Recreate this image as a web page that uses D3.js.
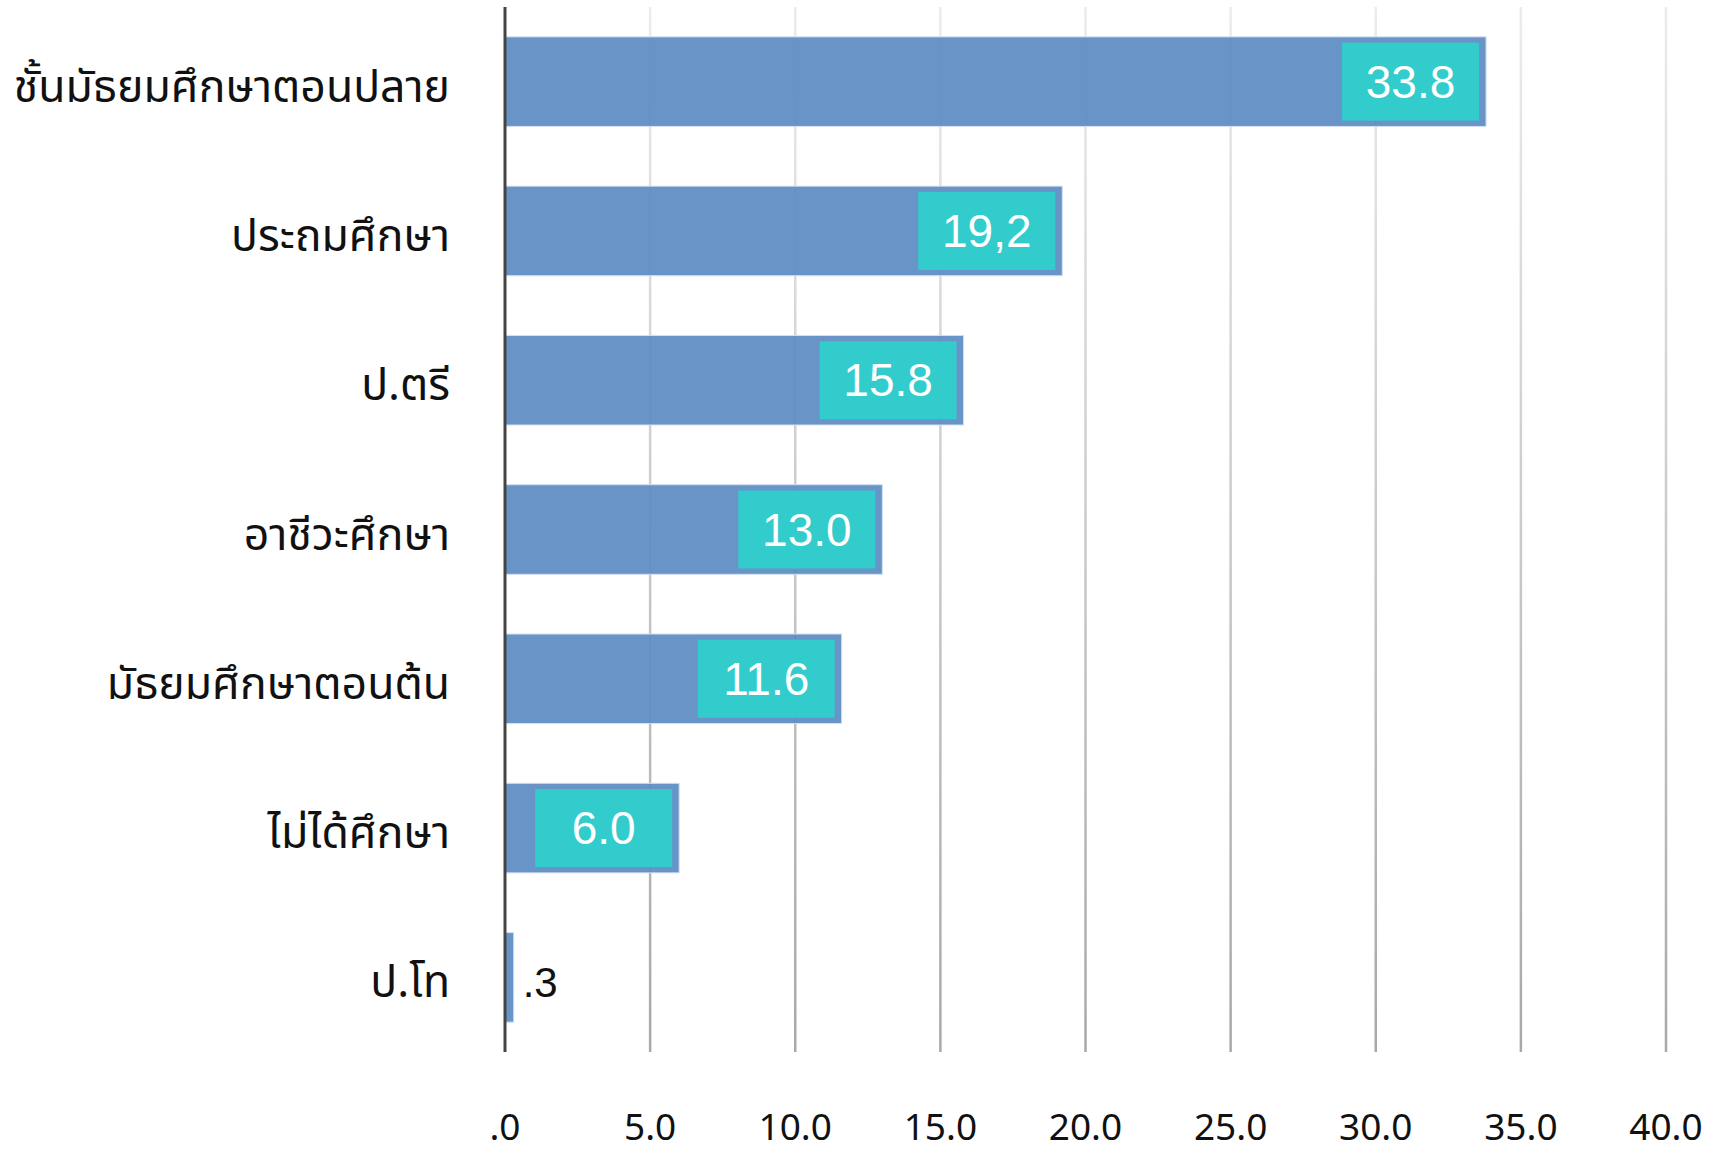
<!DOCTYPE html>
<html>
<head>
<meta charset="utf-8">
<title>bar</title>
<script src="https://d3js.org/d3.v7.min.js"></script>
<style>
  body { margin: 0; background: #fff; }
</style>
</head>
<body>
<div id="my_dataviz"></div>
<script>

// data
var categories = ["ชั้นมัธยมศึกษาตอนปลาย", "ประถมศึกษา", "ป.ตรี", "อาชีวะศึกษา", "มัธยมศึกษาตอนต้น", "ไม่ได้ศึกษา", "ป.โท"]
var values = [33.8, 19.2, 15.8, 13.0, 11.6, 6.0, 0.3]
var valueLabels = ["33.8", "19,2", "15.8", "13.0", "11.6", "6.0", ".3"]
var tickValues = [0, 5, 10, 15, 20, 25, 30, 35, 40]
var tickLabels = [".0", "5.0", "10.0", "15.0", "20.0", "25.0", "30.0", "35.0", "40.0"]

var width = 1723
    height = 1152

var svg = d3.select("#my_dataviz")
  .append("svg")
    .attr("width", width)
    .attr("height", height)

var x = d3.scaleLinear()
  .domain([0, 40])
  .range([505, 1666])

var y = d3.scaleBand()
  .domain(categories)
  .range([7, 1052])
  .paddingInner(0.4)
  .paddingOuter(0.2)

// gradient for the grid lines (light on top, darker at the bottom)
var grad = svg.append("defs").append("linearGradient")
  .attr("id", "gridGrad")
  .attr("gradientUnits", "userSpaceOnUse")
  .attr("x1", 0).attr("y1", 7).attr("x2", 0).attr("y2", 1052)
grad.append("stop").attr("offset", "0%").attr("stop-color", "#ececec")
grad.append("stop").attr("offset", "100%").attr("stop-color", "#a8a8a8")

// grid lines
svg.selectAll(".grid")
  .data(tickValues.slice(1))
  .enter()
  .append("line")
    .attr("x1", function(d){ return x(d) })
    .attr("x2", function(d){ return x(d) })
    .attr("y1", 7)
    .attr("y2", 1052)
    .attr("stroke", "url(#gridGrad)")
    .attr("stroke-width", 2.5)

// bars
svg.selectAll(".bar")
  .data(values)
  .enter()
  .append("rect")
    .attr("x", x(0))
    .attr("y", function(d, i){ return y(categories[i]) })
    .attr("width", function(d){ return x(d) - x(0) })
    .attr("height", y.bandwidth())
    .attr("fill", "rgb(93,140,196)")
    .attr("fill-opacity", 0.93)
    .attr("stroke", "#d3e0f0")
    .attr("stroke-width", 1)

// axis line
svg.append("line")
  .attr("x1", x(0)).attr("x2", x(0))
  .attr("y1", 7).attr("y2", 1052)
  .attr("stroke", "#444")
  .attr("stroke-width", 3)

// category labels
svg.selectAll(".cat")
  .data(categories)
  .enter()
  .append("text")
    .attr("x", 450)
    .attr("y", function(d){ return y(d) + y.bandwidth() / 2 + 20 })
    .attr("text-anchor", "end")
    .style("font-family", "'Noto Sans Thai', 'Noto Sans Thai UI', 'Noto Sans', sans-serif")
    .style("font-size", "44.5px")
    .style("fill", "#111")
    .text(function(d){ return d })

// value label boxes
var boxW = 137, boxH = 78
var lab = svg.selectAll(".lab")
  .data(values)
  .enter()
  .append("g")

lab.filter(function(d){ return d >= 1 })
  .append("rect")
    .attr("x", function(d){ return x(d) - 7 - boxW })
    .attr("y", function(d){ return y(categories[values.indexOf(d)]) + y.bandwidth() / 2 - boxH / 2 })
    .attr("width", boxW)
    .attr("height", boxH)
    .attr("fill", "#33cccc")

lab.append("text")
    .attr("x", function(d){ return d >= 1 ? x(d) - 7 - boxW / 2 : x(d) + 9 })
    .attr("y", function(d, i){ return y(categories[i]) + y.bandwidth() / 2 + (d >= 1 ? 16 : 20) })
    .attr("text-anchor", function(d){ return d >= 1 ? "middle" : "start" })
    .style("font-family", "'Liberation Sans', Arial, sans-serif")
    .style("font-size", function(d){ return d >= 1 ? "46px" : "42px" })
    .style("fill", function(d){ return d >= 1 ? "#fff" : "#111" })
    .text(function(d, i){ return valueLabels[i] })

// tick labels
svg.selectAll(".tick")
  .data(tickValues)
  .enter()
  .append("text")
    .attr("x", function(d){ return x(d) })
    .attr("y", 1140)
    .attr("text-anchor", "middle")
    .style("font-family", "'Noto Sans', sans-serif")
    .style("font-size", "37px")
    .style("fill", "#111")
    .text(function(d, i){ return tickLabels[i] })

</script>
</body>
</html>
